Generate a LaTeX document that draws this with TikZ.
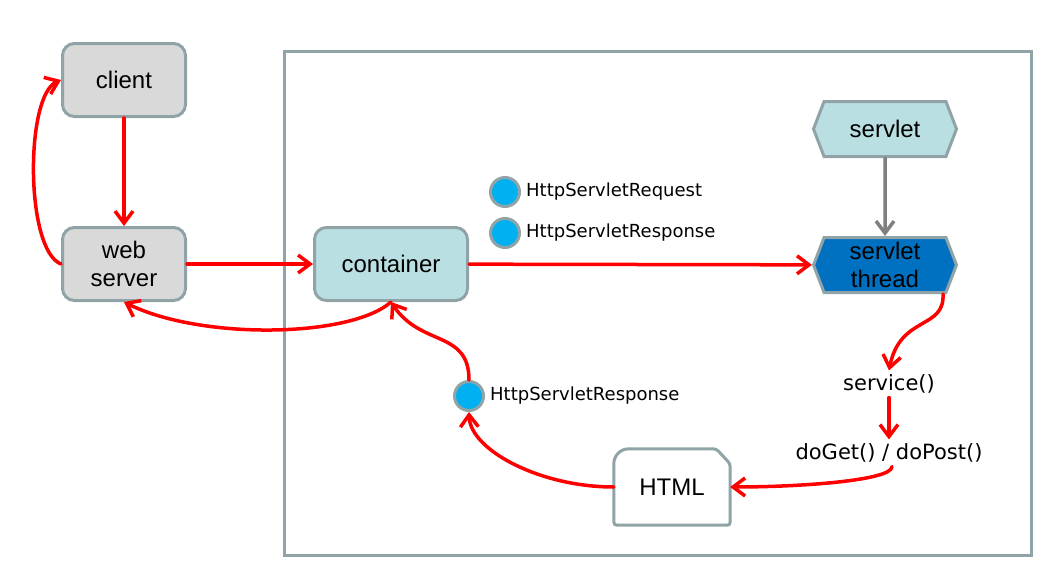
\documentclass[tikz,border=0pt]{standalone}
\usepackage{fontspec}
\setmainfont{Liberation Sans}
\newfontfamily\labelfont{DejaVu Sans}
\usetikzlibrary{arrows.meta,positioning,shapes.symbols,backgrounds}
\definecolor{edge}{HTML}{90A4A8}
\definecolor{boxgray}{HTML}{D9D9D9}
\definecolor{boxcyan}{HTML}{BADFE3}
\definecolor{threadblue}{HTML}{0070C0}
\definecolor{dotblue}{HTML}{00B0F0}
\definecolor{flowred}{HTML}{FF0000}
\tikzset{
  barb/.style={-{Straight Barb[length=12pt,width=18pt,line width=3.5pt]},line width=3.5pt,line cap=round},
  flow/.style={barb,flowred},
  box/.style={draw=edge,line width=3pt,rounded corners=12pt,minimum width=123pt,minimum height=73pt,
    align=center,font=\fontsize{24}{28}\selectfont},
  hexbox/.style={signal,signal to=west and east,signal pointer angle=138,draw=edge,line width=3pt,
    minimum width=143pt,minimum height=55pt,inner sep=0pt,align=center,font=\fontsize{24}{28}\selectfont},
  objdot/.style={circle,draw=edge,fill=dotblue,line width=3pt,minimum size=29pt,inner sep=0pt},
  objlabel/.style={inner sep=0pt,anchor=west,font=\labelfont\fontsize{18}{20}\selectfont},
  method/.style={inner sep=4pt,font=\labelfont\fontsize{21}{24}\selectfont}
}

\begin{document}
\begin{tikzpicture}[x=1pt,y=-1pt]
\useasboundingbox (0,0) rectangle (1055,570);
\draw[edge,line width=3pt] (284,51) rectangle (1031,555);
\node[box,fill=boxgray] (client) at (124,80) {client};
\node[box,fill=boxgray] (web) at (124,264) {web\\server};
\node[box,fill=boxcyan,minimum width=153pt] (container) at (391,264) {container};
\node[hexbox,fill=boxcyan] (servlet) at (885,129) {servlet};
\node[hexbox,fill=threadblue] (thread) at (885,265) {servlet\\thread};
\foreach \n/\y/\t in {req/192/HttpServletRequest,resp/233/HttpServletResponse}{
  \node[objdot] (\n) at (505,\y) {};
  \node[objlabel,right=5pt of \n] {\t};
}
\node[objdot] (back) at (469,396) {};
\node[objlabel,right=5pt of back] {HttpServletResponse};
\node[method] (service) at (889,384) {service()};
\node[method] (doget) at (889,453) {doGet() / doPost()};
% HTML page with folded corner
\node[minimum width=116pt,minimum height=76pt,inner sep=0pt,font=\fontsize{24}{28}\selectfont] (html) at (672,487) {HTML};
\begin{scope}[on background layer]
\draw[edge,line width=3pt,fill=white,rounded corners=3pt] (html.south west)
  {[rounded corners=15pt] -- (html.north west)} -- ([xshift=-14pt]html.north east)
  -- ([yshift=-15pt]html.north east) -- (html.south east) -- cycle;
\end{scope}
\draw[flow] (client) -- (web);
\draw[flow] (web.west) .. controls (25,250) and (25,95) .. (client.west);
\draw[flow] (web) -- (container);
\draw[flow] (container) -- (thread);
\draw[barb,gray] (servlet) -- (thread);
\draw[flow] ([xshift=58pt]thread.south) .. controls (945,330) and (900,315) .. (service.north);
\draw[flow] (service) -- (doget);
\draw[flow] ([xshift=3pt]doget.south) .. controls +(0,14) and +(70,0) .. (html.east);
\draw[flow] (html.west) .. controls (540,487) and (470,450) .. (back.south);
\draw[flow] (back.north) .. controls +(0,-50) and +(30,45) .. (container.south);
\draw[flow] (container.south) .. controls (350,338) and (200,340) .. (web.south);
\end{tikzpicture}
\end{document}
